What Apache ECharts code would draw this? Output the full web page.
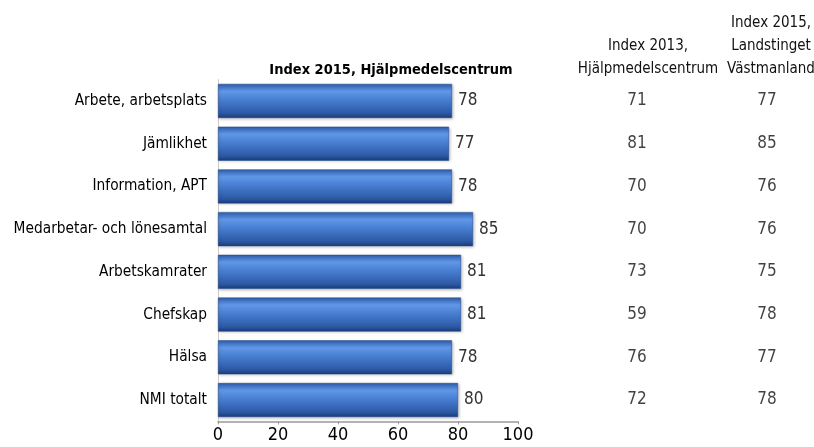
<!DOCTYPE html>
<html><head><meta charset="utf-8">
<script src="https://cdn.jsdelivr.net/npm/echarts@6/dist/echarts.min.js"></script>
<style>html,body{margin:0;padding:0;background:#fff}#c{width:814px;height:447px}</style>
</head><body><div id="c"></div>
<script>
var categories = ["Arbete, arbetsplats","Jämlikhet","Information, APT","Medarbetar- och lönesamtal","Arbetskamrater","Chefskap","Hälsa","NMI totalt"];
var index2015HMC = [78,77,78,85,81,81,78,80];
var index2013HMC = [71,81,70,70,73,59,76,72];
var index2015LTV = [77,85,76,76,75,78,77,78];
var xTicks = [0,20,40,60,80,100];

var FONT = '"Liberation Sans Narrow","DejaVu Sans Condensed","Arial Narrow",sans-serif';
var chart = echarts.init(document.getElementById('c'), null, {renderer:'canvas'});
var gTop = 79.6, gBottom = 25.6;
function textCol(idx, arr){
  return {type:'scatter', xAxisIndex:idx, yAxisIndex:idx, symbolSize:0, silent:true,
    data: arr.map(function(v,i){return [0, categories[i], v];}),
    label:{show:true, position:'inside', formatter:function(p){return p.data[2];}, fontFamily:FONT, fontSize:17, color:'#111'}};
}
chart.setOption({
  animation:false,
  title:[
    {text:'Index 2015, Hjälpmedelscentrum', left:386, top:58, textAlign:'center', textStyle:{fontFamily:FONT, fontSize:14.5, fontWeight:'bold', color:'#000'}},
    {text:'Index 2013,\nHjälpmedelscentrum', left:643, top:30, textAlign:'center', textStyle:{fontFamily:FONT, fontSize:15, fontWeight:'normal', color:'#111', lineHeight:22.5, align:'center'}},
    {text:'Index 2015,\nLandstinget\nVästmanland', left:766, top:7, textAlign:'center', textStyle:{fontFamily:FONT, fontSize:15, fontWeight:'normal', color:'#111', lineHeight:23, align:'center'}}
  ],
  grid:[
    {left:218, right:296, top:gTop, bottom:gBottom},
    {left:600, width:74, top:gTop, bottom:gBottom},
    {left:730, width:74, top:gTop, bottom:gBottom}
  ],
  xAxis:[
    {gridIndex:0, type:'value', min:xTicks[0], max:xTicks[xTicks.length-1], interval:20,
     axisLine:{show:true, lineStyle:{color:'#999', width:1.5}},
     axisTick:{show:true, length:3, lineStyle:{color:'#999'}},
     splitLine:{show:false},
     axisLabel:{fontFamily:FONT, fontSize:18, color:'#000', margin:5}},
    {gridIndex:1, type:'value', min:-1, max:1, show:false},
    {gridIndex:2, type:'value', min:-1, max:1, show:false}
  ],
  yAxis:[
    {gridIndex:0, type:'category', inverse:true, data:categories,
     axisLine:{show:true, lineStyle:{color:'#ccc'}}, axisTick:{show:false},
     axisLabel:{fontFamily:FONT, fontSize:15.3, color:'#000', margin:11}},
    {gridIndex:1, type:'category', inverse:true, data:categories, show:false},
    {gridIndex:2, type:'category', inverse:true, data:categories, show:false}
  ],
  series:[
    {type:'bar', xAxisIndex:0, yAxisIndex:0, data:index2015HMC, barWidth:34,
     itemStyle:{
       color:new echarts.graphic.LinearGradient(0,0,0,1,[
         {offset:0, color:'#2f5fae'},
         {offset:0.22, color:'#6097e6'},
         {offset:0.45, color:'#4a80d4'},
         {offset:0.85, color:'#2d5aa6'},
         {offset:1, color:'#1b3b7a'}
       ]),
       borderColor:'#1e4587', borderWidth:0.5,
       shadowColor:'rgba(0,0,0,0.25)', shadowBlur:3, shadowOffsetX:1, shadowOffsetY:1
     },
     label:{show:true, position:'right', distance:6, fontFamily:FONT, fontSize:17, color:'#333'}},
    textCol(1, index2013HMC),
    textCol(2, index2015LTV)
  ]
});
</script></body></html>
